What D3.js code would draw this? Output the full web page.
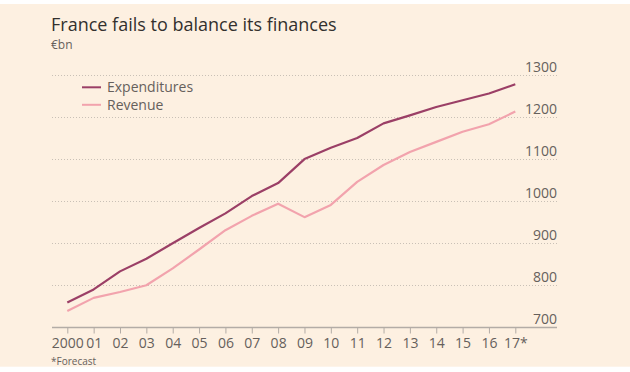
<!DOCTYPE html>
<html>
<head>
<meta charset="utf-8">
<script src="https://cdn.jsdelivr.net/npm/d3@7"></script>
<style>
  html, body { margin: 0; padding: 0; background: #ffffff; }
  svg { display: block; }
  text { font-family: "Open Sans", "Liberation Sans", sans-serif; }
</style>
</head>
<body>
<svg id="chart" width="630" height="372"></svg>
<script>
const years = ["2000","01","02","03","04","05","06","07","08","09","10","11","12","13","14","15","16","17*"];
const expenditures = [759, 790, 833, 863, 900, 936, 971, 1012, 1043, 1100, 1127, 1150, 1185, 1204, 1224, 1240, 1256, 1278];
const revenue = [739, 770, 784, 800, 840, 885, 931, 965, 994, 962, 991, 1046, 1086, 1117, 1141, 1165, 1183, 1213];
const yTicks = [700, 800, 900, 1000, 1100, 1200, 1300];
const seriesNames = ["Expenditures", "Revenue"];
const seriesColors = ["#9b3f66", "#f2a3ad"];

const svg = d3.select("#chart");
const W = 630, H = 372;

svg.append("rect").attr("x", 0).attr("y", 4).attr("width", W).attr("height", 362.7).attr("fill", "#fdf0e1");

const left = 52, right = 557;
const x = d3.scalePoint().domain(years).range([67.3, 515.3]);
const y = d3.scaleLinear().domain([700, 1300]).range([327.3, 75]);

// gridlines
svg.append("g").selectAll("line").data(yTicks.filter(d => d !== 700)).join("line")
  .attr("x1", left).attr("x2", right)
  .attr("y1", d => Math.round(y(d)) + 0.5).attr("y2", d => Math.round(y(d)) + 0.5)
  .attr("stroke", "#c9c0b6").attr("stroke-width", 1).attr("stroke-dasharray", "1,2");

// y labels
svg.append("g").selectAll("text").data(yTicks).join("text")
  .attr("x", right).attr("y", d => y(d) - 3.5)
  .attr("text-anchor", "end")
  .attr("font-size", 14).attr("fill", "#66605c")
  .text(d => d);

// x axis
const xAxis = d3.axisBottom(x).tickSize(6).tickPadding(5);
const gx = svg.append("g").attr("transform", `translate(0,${Math.round(y(700)) + 0.5})`).call(xAxis);
gx.select(".domain").attr("d", `M${left},0H${right}`).attr("stroke", "#b3aca6").attr("stroke-width", 1.5);
gx.selectAll(".tick line").attr("stroke", "#b3aca6");
gx.selectAll(".tick text").attr("font-size", 14).attr("fill", "#66605c")
  .attr("font-family", "'Open Sans', 'Liberation Sans', sans-serif").attr("dy", "0.71em");

// lines
const line = d3.line().x((d, i) => x(years[i])).y(d => y(d));
const series = [expenditures, revenue];
[1, 0].forEach(k => {
  svg.append("path").datum(series[k])
    .attr("d", line).attr("fill", "none")
    .attr("stroke", seriesColors[k]).attr("stroke-width", 2.2)
    .attr("stroke-linejoin", "round").attr("stroke-linecap", "butt");
});

// legend
const leg = svg.append("g");
seriesNames.forEach((name, i) => {
  const ly = 87.3 + i * 17.5;
  leg.append("line").attr("x1", 82).attr("x2", 101).attr("y1", ly).attr("y2", ly)
    .attr("stroke", seriesColors[i]).attr("stroke-width", 2);
  leg.append("text").attr("x", 107).attr("y", ly + 4.8)
    .attr("font-size", 14).attr("fill", "#66605c").text(name);
});

// title
svg.append("text").attr("x", 51).attr("y", 30.5)
  .attr("font-size", 18).attr("fill", "#33302e").text("France fails to balance its finances");
svg.append("text").attr("x", 51).attr("y", 48.5)
  .attr("font-size", 12).attr("fill", "#66605c").text("€bn");

// footnote
svg.append("text").attr("x", 51).attr("y", 365)
  .attr("font-size", 10).attr("fill", "#66605c").text("*Forecast");
</script>
</body>
</html>
